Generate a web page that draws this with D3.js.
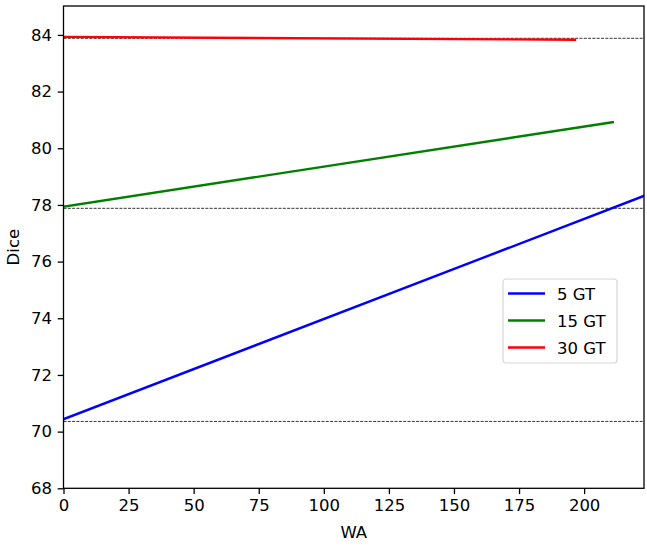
<!DOCTYPE html>
<html>
<head>
<meta charset="utf-8">
<script src="https://cdn.jsdelivr.net/npm/d3@7"></script>
<style>
  body { margin: 0; background: #fff; }
  svg { font-family: "DejaVu Sans", sans-serif; }
</style>
</head>
<body>
<svg id="chart" width="647" height="547"></svg>
<script>
// Data
const seriesNames = ['5 GT', '15 GT', '30 GT'];
const seriesColors = ['#0000ff', '#008000', '#ff0000'];
const wa5 = [0, 223], dice5 = [70.44, 78.32];
const wa15 = [0, 211], dice15 = [77.94, 80.92];
const wa30 = [0, 196.5], dice30 = [83.93, 83.83];
const refLines = [83.88, 77.88, 70.36];
const xTicks = [0, 25, 50, 75, 100, 125, 150, 175, 200];
const yTicks = [68, 70, 72, 74, 76, 78, 80, 82, 84];

const series = [
  { name: seriesNames[0], color: seriesColors[0], pts: wa5.map((x, i) => [x, dice5[i]]) },
  { name: seriesNames[1], color: seriesColors[1], pts: wa15.map((x, i) => [x, dice15[i]]) },
  { name: seriesNames[2], color: seriesColors[2], pts: wa30.map((x, i) => [x, dice30[i]]) }
];

const fontSize = '16.5px';
const margin = { left: 63.5, right: 3, top: 6, bottom: 58.7 };
const width = 647 - margin.left - margin.right;
const height = 547 - margin.top - margin.bottom;

const svg = d3.select('#chart');
const g = svg.append('g').attr('transform', `translate(${margin.left},${margin.top})`);

svg.append('defs').append('clipPath').attr('id', 'clip')
  .append('rect').attr('width', width).attr('height', height);

const x = d3.scaleLinear().domain([0, 223]).range([0, width]);
const y = d3.scaleLinear().domain([68, 85.02]).range([height, 0]);

const plot = g.append('g').attr('clip-path', 'url(#clip)');

// reference dashed lines
plot.selectAll('.ref')
  .data(refLines)
  .join('line')
  .attr('class', 'ref')
  .attr('x1', 0).attr('x2', width)
  .attr('y1', d => y(d)).attr('y2', d => y(d))
  .attr('stroke', '#000')
  .attr('stroke-width', 0.8)
  .attr('stroke-dasharray', '3,1.3');

const line = d3.line().x(d => x(d[0])).y(d => y(d[1]));

plot.selectAll('.series')
  .data(series)
  .join('path')
  .attr('class', 'series')
  .attr('d', d => line(d.pts))
  .attr('fill', 'none')
  .attr('stroke', d => d.color)
  .attr('stroke-linecap', 'square')
  .attr('stroke-width', 2.4);

// axes
const xAxis = d3.axisBottom(x).tickValues(xTicks).tickSize(5.8).tickPadding(5.2);
const yAxis = d3.axisLeft(y).tickValues(yTicks).tickSize(5.8).tickPadding(5.8);

const xg = g.append('g').attr('transform', `translate(0,${height})`).call(xAxis);
const yg = g.append('g').call(yAxis);
[xg, yg].forEach(a => {
  a.select('.domain').remove();
  a.attr('font-size', null).attr('font-family', null);
  a.selectAll('line').attr('stroke', '#000').attr('stroke-width', 1.3);
  a.selectAll('text').style('font-size', fontSize).attr('fill', '#000')
    .style('font-family', '"DejaVu Sans", sans-serif');
});

// frame
g.append('rect')
  .attr('width', width).attr('height', height)
  .attr('fill', 'none').attr('stroke', '#000').attr('stroke-width', 1.3);

// axis titles
svg.append('text')
  .attr('x', margin.left + width / 2).attr('y', 538)
  .attr('text-anchor', 'middle').style('font-size', fontSize)
  .text('WA');
svg.append('text')
  .attr('transform', `translate(18.5,${margin.top + height / 2}) rotate(-90)`)
  .attr('text-anchor', 'middle').style('font-size', fontSize)
  .text('Dice');

// legend
const leg = svg.append('g').attr('transform', 'translate(503,279)');
leg.append('rect')
  .attr('width', 114).attr('height', 84).attr('rx', 3)
  .attr('fill', '#fff').attr('fill-opacity', 0.8)
  .attr('stroke', '#d6d6d6').attr('stroke-width', 1.2);
const items = leg.selectAll('.item')
  .data(series)
  .join('g')
  .attr('class', 'item')
  .attr('transform', (d, i) => `translate(0,${14.5 + i * 27})`);
items.append('line')
  .attr('x1', 5).attr('x2', 42).attr('y1', 0).attr('y2', 0)
  .attr('stroke', d => d.color).attr('stroke-width', 2.4);
items.append('text')
  .attr('x', 54).attr('y', 6.5)
  .style('font-size', fontSize)
  .text(d => d.name);
</script>
</body>
</html>
